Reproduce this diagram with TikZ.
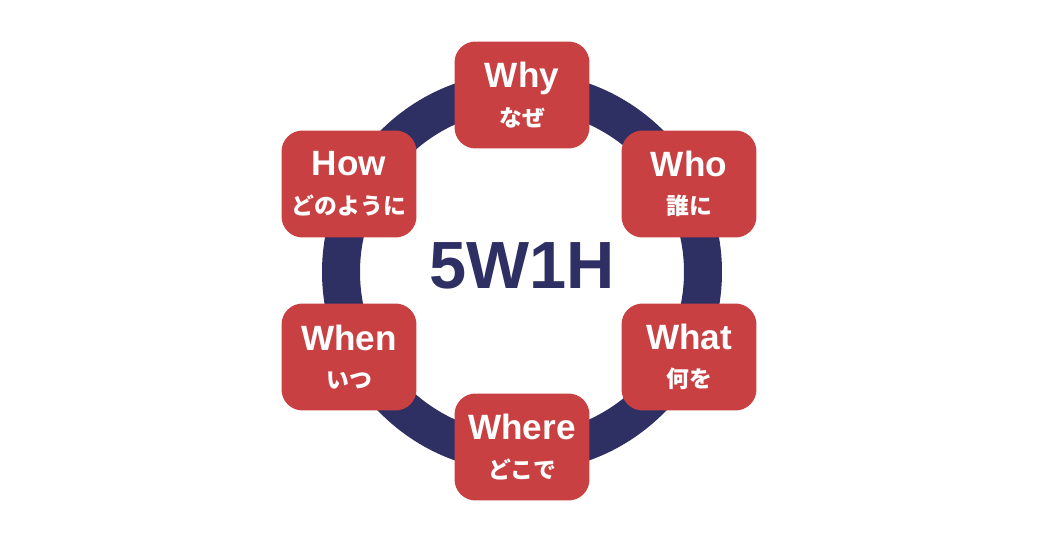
\documentclass[tikz,border=0pt]{standalone}
\usepackage{fontspec}
\setmainfont{Liberation Sans}
\newfontfamily\jpfont{Noto Sans CJK JP}
\definecolor{wred}{HTML}{C94042}
\definecolor{wnavy}{HTML}{2E2F63}
\tikzset{
  qbox/.style={rectangle, fill=wred, rounded corners=12pt, minimum width=2.7cm, minimum height=2.14cm, text=white, align=center, font=\bfseries\fontsize{20}{24}\selectfont},
  ring/.style={draw=wnavy, line width=0.76cm}
}
\newcommand{\jp}[1]{{\jpfont\bfseries\fontsize{13}{16}\selectfont #1}}

\begin{document}
\begin{tikzpicture}[x=0.02cm, y=-0.02cm]
	\useasboundingbox (0,0) rectangle (1046,547);
	\coordinate (center) at (522,272);
	\draw [ring] (center) circle (181);
	\node [text=wnavy, font=\bfseries\fontsize{38}{42}\selectfont] (title) at (522,266) {5W1H};

	\node [qbox] (why) at (522,95) {Why\\[-2pt]\jp{なぜ}};
	\node [qbox] (who) at (689,184) {Who\\[-2pt]\jp{誰に}};
	\node [qbox] (what) at (689,357) {What\\[-2pt]\jp{何を}};
	\node [qbox] (where) at (522,447) {Where\\[-2pt]\jp{どこで}};
	\node [qbox] (when) at (349,357) {When\\[-2pt]\jp{いつ}};
	\node [qbox] (how) at (349,184) {How\\[-2pt]\jp{どのように}};
\end{tikzpicture}
\end{document}
